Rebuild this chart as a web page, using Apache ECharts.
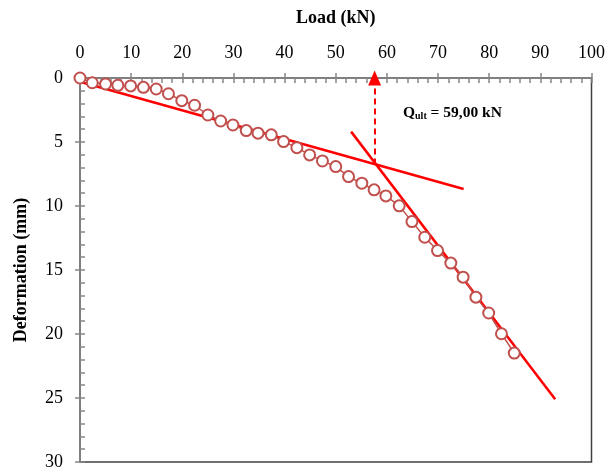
<!DOCTYPE html>
<html>
<head>
<meta charset="utf-8">
<script src="https://cdn.jsdelivr.net/npm/echarts@6/dist/echarts.min.js"></script>
<style>
  html, body { margin: 0; padding: 0; background: #fff; }
  #chart { width: 608px; height: 472px; }
</style>
</head>
<body>
<div id="chart"></div>
<script>
// measured load / deformation points
var load = [0, 2.4, 5.0, 7.4, 9.9, 12.4, 14.9, 17.3, 19.9, 22.4, 25.0, 27.5, 29.9, 32.5, 34.8, 37.4, 39.8, 42.4,
  44.9, 47.4, 50.0, 52.5, 55.1, 57.5, 59.8, 62.4, 64.9, 67.4, 69.9, 72.5, 74.9, 77.4, 79.9, 82.4, 84.9];
var deformation = [0, 0.37, 0.47, 0.57, 0.62, 0.73, 0.86, 1.23, 1.77, 2.13, 2.89, 3.36, 3.67, 4.11, 4.31, 4.44, 4.97, 5.44,
  6.01, 6.48, 6.92, 7.70, 8.22, 8.74, 9.21, 9.99, 11.22, 12.44, 13.48, 14.46, 15.56, 17.12, 18.36, 19.98, 21.49];

// tangent lines
var line1X = [0, 75];
var line1Y = [0.29, 8.67];
var line2X = [53.0, 92.9];
var line2Y = [4.19, 25.1];

// ultimate load marker
var qultX = 57.6;
var qultY = 6.75;
var qultText = '59,00 kN';

var serif = 'Liberation Serif';
var gray = '#868686';

function pairs(xs, ys) {
  var res = [];
  for (var i = 0; i < xs.length; i++) res.push([xs[i], ys[i]]);
  return res;
}

var chart = echarts.init(document.getElementById('chart'));
chart.setOption({
  animation: false,
  grid: {
    left: 80, right: 15, top: 78, bottom: 10,
    show: true,
    borderColor: '#404040',
    borderWidth: 1.5
  },
  xAxis: [{
    type: 'value', position: 'top',
    min: 0, max: 100, interval: 10,
    name: 'Load (kN)', nameLocation: 'middle', nameGap: 51,
    nameTextStyle: { fontFamily: serif, fontSize: 18, fontWeight: 'bold', color: '#000' },
    axisLine: { show: true, lineStyle: { color: gray, width: 1.5 } },
    axisTick: { show: true, inside: false, length: 5, lineStyle: { color: gray, width: 1.5 } },
    axisLabel: { fontFamily: serif, fontSize: 18, color: '#000', margin: 16 },
    splitLine: { show: false }
  }, {
    type: 'value', position: 'top',
    min: 0, max: 100, interval: 10,
    axisLine: { show: false },
    axisTick: { show: true, inside: true, length: 5, lineStyle: { color: gray, width: 1.5 } },
    minorTick: { show: true, splitNumber: 5, length: 5, lineStyle: { color: gray, width: 1.5 } },
    axisLabel: { show: false },
    splitLine: { show: false }
  }],
  yAxis: [{
    type: 'value', position: 'left', inverse: true,
    min: 0, max: 30, interval: 5,
    name: 'Deformation (mm)', nameLocation: 'middle', nameGap: 50,
    nameTextStyle: { fontFamily: serif, fontSize: 18, fontWeight: 'bold', color: '#000' },
    axisLine: { show: true, lineStyle: { color: gray, width: 1.5 } },
    axisTick: { show: true, inside: false, length: 5, lineStyle: { color: gray, width: 1.5 } },
    axisLabel: { fontFamily: serif, fontSize: 18, color: '#000', margin: 17 },
    splitLine: { show: false }
  }, {
    type: 'value', position: 'left', inverse: true,
    min: 0, max: 30, interval: 5,
    axisLine: { show: false },
    axisTick: { show: true, inside: true, length: 5, lineStyle: { color: gray, width: 1.5 } },
    minorTick: { show: true, splitNumber: 5, length: 5, lineStyle: { color: gray, width: 1.5 } },
    axisLabel: { show: false },
    splitLine: { show: false }
  }],
  series: [{
    type: 'line',
    data: pairs(line1X, line1Y),
    symbol: 'none',
    lineStyle: { color: '#ff0000', width: 2.5 },
    z: 3
  }, {
    type: 'line',
    data: pairs(line2X, line2Y),
    symbol: 'none',
    lineStyle: { color: '#ff0000', width: 2.5 },
    z: 3
  }, {
    type: 'line',
    data: pairs(load, deformation),
    symbol: 'circle',
    symbolSize: 11,
    itemStyle: { color: '#fff', borderColor: '#c0504d', borderWidth: 2 },
    lineStyle: { color: '#c0504d', width: 1.5 },
    z: 4
  }, {
    type: 'line',
    data: [],
    markLine: {
      silent: true,
      symbol: ['none', 'triangle'],
      symbolSize: [13, 15],
      label: { show: false },
      lineStyle: { color: '#ff0000', width: 2, type: [6, 4] },
      data: [[{ coord: [qultX, qultY] }, { coord: [qultX, 0] }]]
    }
  }],
  graphic: [{
    type: 'text',
    left: 403,
    top: 105,
    style: {
      text: '{a|Q}{b|ult}{a| = ' + qultText + '}',
      rich: {
        a: { fontFamily: serif, fontSize: 15.5, fontWeight: 'bold', fill: '#000' },
        b: { fontFamily: serif, fontSize: 10, fontWeight: 'bold', fill: '#000', verticalAlign: 'bottom', padding: [5, 0, 0, 0] }
      }
    }
  }]
});
</script>
</body>
</html>
